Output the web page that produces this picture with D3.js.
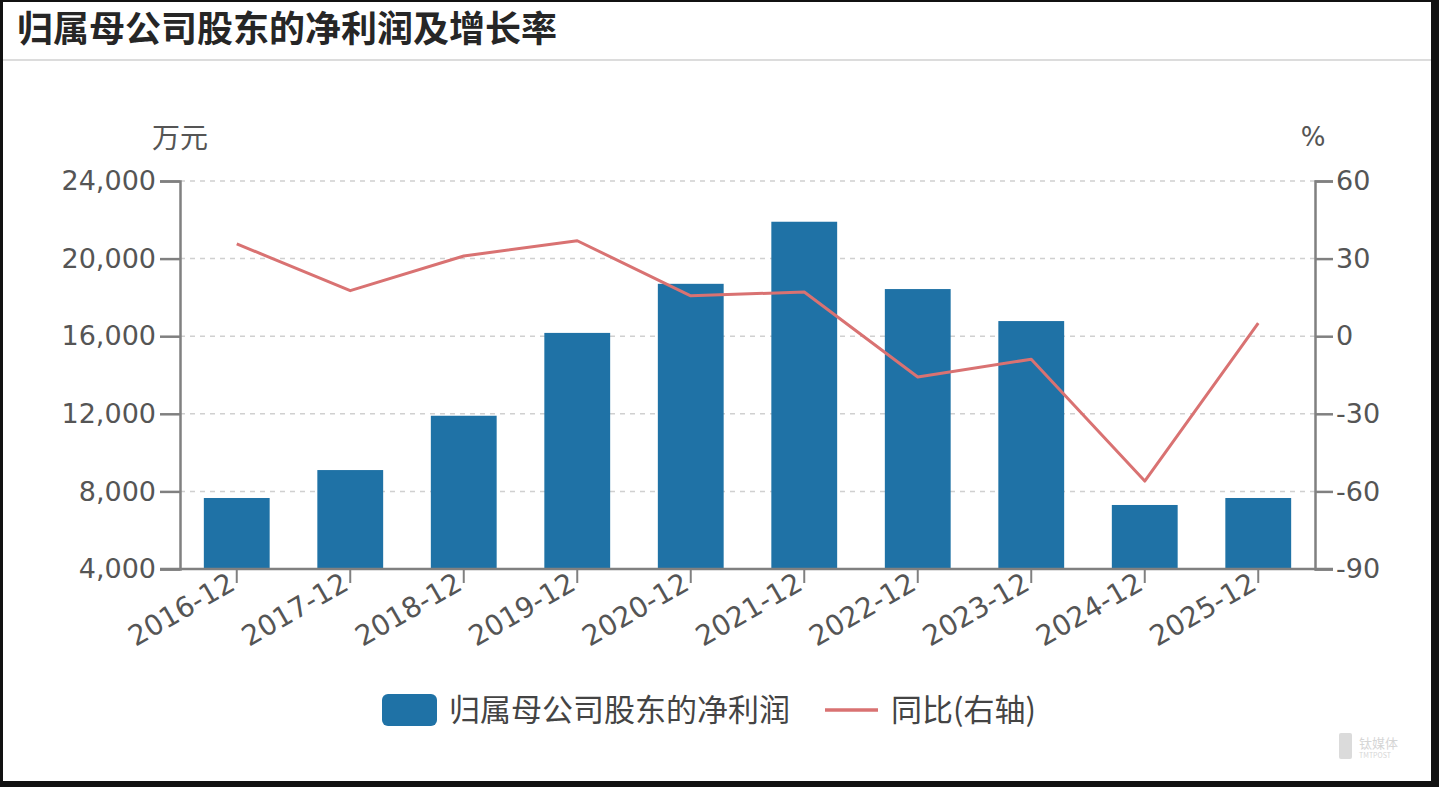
<!DOCTYPE html>
<html><head><meta charset="utf-8">
<script src="https://cdn.jsdelivr.net/npm/d3@7/dist/d3.min.js"></script>
<style>
html,body{margin:0;padding:0;background:#000;}
svg{display:block;font-family:"Noto Sans CJK SC","Noto Sans",sans-serif;}
</style></head>
<body>
<svg id="chart" width="1439" height="787"></svg>
<script>
const categories = ["2016-12","2017-12","2018-12","2019-12","2020-12","2021-12","2022-12","2023-12","2024-12","2025-12"];
const profit = [7660, 9100, 11900, 16170, 18700, 21900, 18430, 16780, 7300, 7660];
const growth = [35.7, 17.6, 31.0, 36.9, 15.6, 17.1, -15.8, -8.9, -56.0, 5.1];
const leftTicks = [4000, 8000, 12000, 16000, 20000, 24000];
const rightTicks = [-90, -60, -30, 0, 30, 60];
const title = "归属母公司股东的净利润及增长率";
const legendLabels = ["归属母公司股东的净利润", "同比(右轴)"];

const svg = d3.select("#chart");
const W = 1439, H = 787;
const cjkFont = "'Noto Sans CJK SC','Noto Sans',sans-serif";
const numFont = "'DejaVu Sans','Noto Sans',sans-serif";
svg.append("rect").attr("width", W).attr("height", H).attr("fill", "#111");
svg.append("rect").attr("x", 3).attr("y", 2).attr("width", 1428).attr("height", 779).attr("fill", "#fff");

// title
svg.append("text").attr("x", 17).attr("y", 42).style("font-size", "36px").style("font-weight", "bold")
  .style("font-family", cjkFont).attr("fill", "#262626").text(title);
svg.append("line").attr("x1", 3).attr("x2", 1431).attr("y1", 60).attr("y2", 60)
  .attr("stroke", "#dcdcdc").attr("stroke-width", 2);

const pLeft = 180, pRight = 1315, pTop = 181, pBottom = 569;
const x = d3.scaleBand().domain(categories).range([pLeft, pRight]).paddingInner(0.42).paddingOuter(0.21);
const yL = d3.scaleLinear().domain([4000, 24000]).range([pBottom, pTop]);
const yR = d3.scaleLinear().domain([-90, 60]).range([pBottom, pTop]);

// grid
svg.append("g").selectAll("line").data(leftTicks.filter(d => d !== 4000)).join("line")
  .attr("x1", pLeft).attr("x2", pRight).attr("y1", d => yL(d)).attr("y2", d => yL(d))
  .attr("stroke", "#d0d0d0").attr("stroke-width", 1.5).attr("stroke-dasharray", "5,5");

const axisColor = "#808080";
const fmt = d3.format(",");
// left axis
const gL = svg.append("g").attr("transform", `translate(${pLeft},0)`)
  .call(d3.axisLeft(yL).tickValues(leftTicks).tickFormat(fmt).tickSize(20).tickPadding(4));
// right axis
const gR = svg.append("g").attr("transform", `translate(${pRight},0)`)
  .call(d3.axisRight(yR).tickValues(rightTicks).tickFormat(d => String(d)).tickSize(18).tickPadding(3));
[gL, gR].forEach(g => {
  g.select(".domain").attr("stroke", axisColor).attr("stroke-width", 2.5);
  g.selectAll(".tick line").attr("stroke", axisColor).attr("stroke-width", 2.5);
  g.selectAll(".tick text").style("font-size", "27px").attr("fill", "#555").style("font-family", numFont);
});

// bars
svg.append("g").selectAll("rect").data(categories).join("rect")
  .attr("x", d => x(d)).attr("width", x.bandwidth())
  .attr("y", (d, i) => yL(profit[i])).attr("height", (d, i) => pBottom - yL(profit[i]))
  .attr("fill", "#1f72a6");

// x axis
const gX = svg.append("g").attr("transform", `translate(0,${pBottom})`)
  .call(d3.axisBottom(x).tickSize(14).tickSizeOuter(0).tickPadding(4));
gX.select(".domain").attr("stroke", axisColor).attr("stroke-width", 2.5)
  .attr("d", `M${pLeft - 20},0H${pRight + 18}`);
gX.selectAll(".tick line").attr("stroke", axisColor).attr("stroke-width", 2);
gX.selectAll(".tick text").style("font-size", "28px").attr("fill", "#555").style("font-family", numFont)
  .attr("text-anchor", "end").attr("transform", "translate(-10,2) rotate(-30)").attr("dy", "0.72em").attr("y", 0);

// line
const line = d3.line().x((d, i) => x(categories[i]) + x.bandwidth() / 2).y(d => yR(d));
svg.append("path").datum(growth).attr("d", line).attr("fill", "none")
  .attr("stroke", "#d97272").attr("stroke-width", 3).attr("stroke-linejoin", "round");

// axis units
svg.append("text").attr("x", 180).attr("y", 148).attr("text-anchor", "middle").style("font-size", "28px")
  .style("font-family", cjkFont).attr("fill", "#555").text("万元");
svg.append("text").attr("x", 1313).attr("y", 146).attr("text-anchor", "middle").style("font-size", "26px")
  .attr("fill", "#555").style("font-family", numFont).text("%");

// legend
const lg = svg.append("g").style("font-family", cjkFont);
lg.append("rect").attr("x", 382).attr("y", 694).attr("width", 55).attr("height", 32).attr("rx", 6).attr("fill", "#1f72a6");
lg.append("text").attr("x", 449).attr("y", 721).style("font-size", "31px").attr("fill", "#444").text(legendLabels[0]);
lg.append("line").attr("x1", 825).attr("x2", 878).attr("y1", 710).attr("y2", 710).attr("stroke", "#d97272").attr("stroke-width", 3.5);
lg.append("text").attr("x", 891).attr("y", 721).style("font-size", "31px").attr("fill", "#444").text(legendLabels[1]);

// watermark
const wm = svg.append("g").attr("opacity", 0.35).style("font-family", cjkFont);
wm.append("rect").attr("x", 1339).attr("y", 733).attr("width", 13).attr("height", 26).attr("rx", 2).attr("fill", "#999");
wm.append("text").attr("x", 1359).attr("y", 748).style("font-size", "13px").attr("fill", "#888").text("钛媒体");
wm.append("text").attr("x", 1359).attr("y", 758).style("font-size", "7px").attr("fill", "#888").text("TMTPOST");
</script>
</body></html>
